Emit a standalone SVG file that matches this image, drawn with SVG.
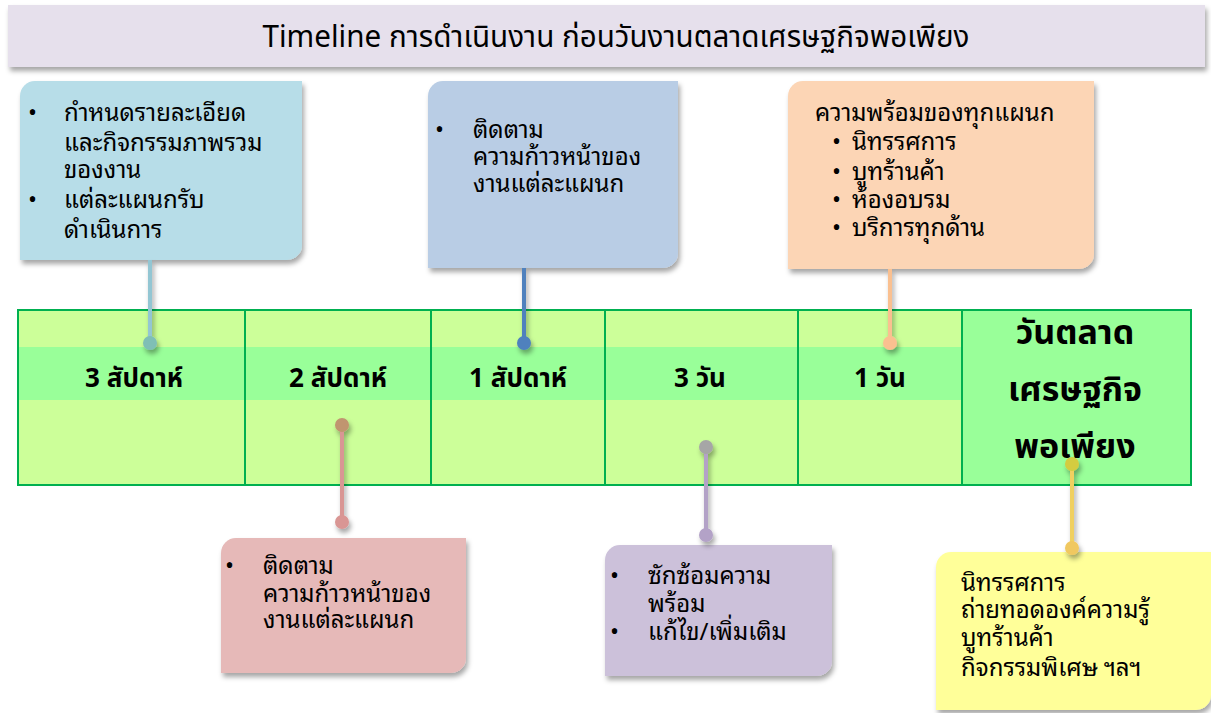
<svg xmlns="http://www.w3.org/2000/svg" width="1211" height="713" viewBox="0 0 1211 713">
<style>
.t{font-family:"Noto Sans Thai Looped","Noto Sans Thai","Noto Sans","DejaVu Sans",sans-serif;font-size:24px;fill:#000}
.b{font-family:"Noto Sans Thai","Noto Sans","DejaVu Sans",sans-serif;font-weight:bold;fill:#000;text-anchor:middle}
.grid{stroke:#00b050;stroke-width:2;fill:none}
.dot{stroke:none}
</style>
<defs>
<filter id="sh" x="-10%" y="-10%" width="130%" height="130%">
<feDropShadow dx="2" dy="4" stdDeviation="2.5" flood-color="#000" flood-opacity="0.35"/>
</filter>
</defs>
<g id="title">
<rect x="8" y="5" width="1197" height="62" fill="#e6e0ec" filter="url(#sh)"/>
<text x="616" y="47" font-family="'Noto Sans Thai','Noto Sans',sans-serif" font-size="30" text-anchor="middle" fill="#000" textLength="707" lengthAdjust="spacingAndGlyphs">Timeline การดำเนินงาน ก่อนวันงานตลาดเศรษฐกิจพอเพียง</text>
</g>
<g id="table">
<rect x="18" y="310" width="944" height="175" fill="#ccff99"/>
<rect x="18" y="347" width="944" height="53" fill="#99ff99"/>
<rect x="962" y="310" width="229" height="175" fill="#99ff99"/>
<g class="grid">
<rect x="18" y="310" width="1173" height="175"/>
<line x1="245" y1="310" x2="245" y2="485"/>
<line x1="431" y1="310" x2="431" y2="485"/>
<line x1="605" y1="310" x2="605" y2="485"/>
<line x1="798" y1="310" x2="798" y2="485"/>
<line x1="962" y1="310" x2="962" y2="485"/>
</g>
<text class="b" x="134" y="387" font-size="26">3 สัปดาห์</text>
<text class="b" x="338" y="387" font-size="26">2 สัปดาห์</text>
<text class="b" x="518" y="387" font-size="26">1 สัปดาห์</text>
<text class="b" x="700" y="387" font-size="26">3 วัน</text>
<text class="b" x="880" y="387" font-size="26">1 วัน</text>
<text class="b" font-size="34"><tspan x="1075" y="344">วันตลาด</tspan><tspan x="1075" y="401">เศรษฐกิจ</tspan><tspan x="1075" y="458">พอเพียง</tspan></text>
</g>
<g id="node1">
<path d="M35,81 H302 V245 A15,15 0 0 1 287,260 H20 V96 A15,15 0 0 1 35,81 Z" fill="#b7dde8" filter="url(#sh)"/>
<text class="t"><tspan x="28" y="121">•</tspan><tspan x="28" y="208">•</tspan></text>
<text class="t"><tspan x="64" y="121">กำหนดรายละเอียด</tspan><tspan x="64" y="151">และกิจกรรมภาพรวม</tspan><tspan x="64" y="178">ของงาน</tspan><tspan x="64" y="208">แต่ละแผนกรับ</tspan><tspan x="64" y="238">ดำเนินการ</tspan></text>
</g>
<g id="node2">
<path d="M443,81 H678 V253 A15,15 0 0 1 663,268 H428 V96 A15,15 0 0 1 443,81 Z" fill="#b9cde5" filter="url(#sh)"/>
<text class="t" x="435" y="138">•</text>
<text class="t"><tspan x="473" y="138">ติดตาม</tspan><tspan x="473" y="165">ความก้าวหน้าของ</tspan><tspan x="473" y="192">งานแต่ละแผนก</tspan></text>
</g>
<g id="node3">
<path d="M803,81 H1094 V254 A15,15 0 0 1 1079,269 H788 V96 A15,15 0 0 1 803,81 Z" fill="#fcd5b5" filter="url(#sh)"/>
<text class="t"><tspan x="815" y="121">ความพร้อมของทุกแผนก</tspan><tspan x="852" y="150">นิทรรศการ</tspan><tspan x="852" y="180">บูทร้านค้า</tspan><tspan x="852" y="208">ห้องอบรม</tspan><tspan x="852" y="236">บริการทุกด้าน</tspan></text>
<text class="t"><tspan x="832" y="150">•</tspan><tspan x="832" y="180">•</tspan><tspan x="832" y="208">•</tspan><tspan x="832" y="236">•</tspan></text>
</g>
<g id="node4">
<path d="M236,538 H466 V658 A15,15 0 0 1 451,673 H221 V553 A15,15 0 0 1 236,538 Z" fill="#e6b9b8" filter="url(#sh)"/>
<text class="t" x="225" y="574">•</text>
<text class="t"><tspan x="263" y="574">ติดตาม</tspan><tspan x="263" y="602">ความก้าวหน้าของ</tspan><tspan x="263" y="628">งานแต่ละแผนก</tspan></text>
</g>
<g id="node5">
<path d="M620,545 H832 V661 A15,15 0 0 1 817,676 H605 V560 A15,15 0 0 1 620,545 Z" fill="#ccc1da" filter="url(#sh)"/>
<text class="t"><tspan x="610" y="584">•</tspan><tspan x="610" y="640">•</tspan></text>
<text class="t"><tspan x="648" y="584">ซักซ้อมความ</tspan><tspan x="648" y="612">พร้อม</tspan><tspan x="648" y="640">แก้ไข/เพิ่มเติม</tspan></text>
</g>
<g id="node6">
<path d="M951,552 H1211 V695 A15,15 0 0 1 1196,710 H936 V567 A15,15 0 0 1 951,552 Z" fill="#ffff99" filter="url(#sh)"/>
<text class="t"><tspan x="961" y="591">นิทรรศการ</tspan><tspan x="961" y="618">ถ่ายทอดองค์ความรู้</tspan><tspan x="961" y="646">บูทร้านค้า</tspan><tspan x="961" y="676">กิจกรรมพิเศษ ฯลฯ</tspan></text>
</g>
<g id="connectors" stroke-width="4" filter="url(#sh)">
<line x1="150" y1="260" x2="150" y2="343" stroke="#93c6d3"/>
<circle class="dot" cx="150" cy="343" r="7" fill="#7fbfb5"/>
<line x1="524" y1="268" x2="524" y2="343" stroke="#4f81bd"/>
<circle class="dot" cx="524" cy="343" r="7" fill="#4f81bd"/>
<line x1="890" y1="269" x2="890" y2="343" stroke="#fac090"/>
<circle class="dot" cx="890" cy="343" r="7" fill="#fac090"/>
<line x1="342" y1="425" x2="342" y2="522" stroke="#d99694"/>
<circle class="dot" cx="342" cy="425" r="7" fill="#c0956f"/>
<circle class="dot" cx="342" cy="522" r="7" fill="#d99694"/>
<line x1="706" y1="447" x2="706" y2="535" stroke="#b3a2c7"/>
<circle class="dot" cx="706" cy="447" r="7" fill="#a6a6a6"/>
<circle class="dot" cx="706" cy="535" r="7" fill="#b3a2c7"/>
<line x1="1072" y1="464" x2="1072" y2="548" stroke="#f0d060"/>
<circle class="dot" cx="1072" cy="464" r="7" fill="#d4cc40"/>
<circle class="dot" cx="1072" cy="548" r="7" fill="#f0c860"/>
</g>
</svg>
